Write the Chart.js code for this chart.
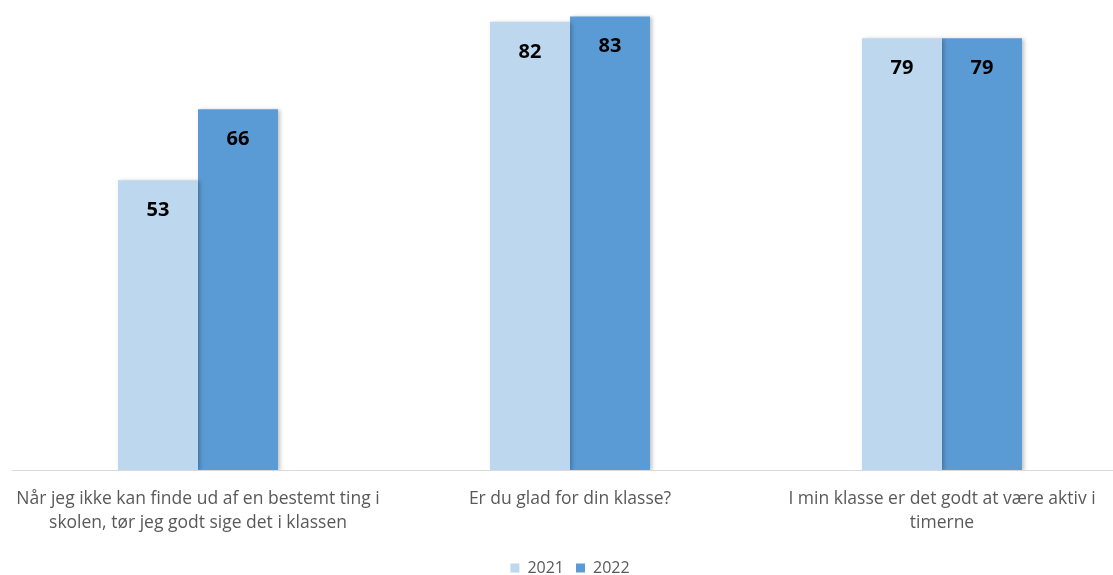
<!DOCTYPE html>
<html>
<head>
<meta charset="utf-8">
<script src="https://cdn.jsdelivr.net/npm/chart.js@4"></script>
<style>
html, body { margin: 0; padding: 0; background: #ffffff; overflow: hidden; }
</style>
</head>
<body>
<canvas id="chart" width="1128" height="575"></canvas>
<script>
const categories = [
	['Når jeg ikke kan finde ud af en bestemt ting i', 'skolen, tør jeg godt sige det i klassen'],
	['Er du glad for din klasse?'],
	['I min klasse er det godt at være aktiv i', 'timerne'],
];
const values2021 = [53, 82, 79];
const values2022 = [66, 83, 79];

const fontFamily = "'Open Sans', Lato, sans-serif";

// bold value labels inside top of each bar
const valueLabels = {
	id: 'valueLabels',
	afterDatasetsDraw: chart => {
		const ctx = chart.ctx;
		ctx.save();
		ctx.fillStyle = '#000000';
		ctx.font = `bold 20px ${fontFamily}`;
		ctx.textAlign = 'center';
		ctx.textBaseline = 'middle';
		chart.data.datasets.forEach((ds, i) => {
			const meta = chart.getDatasetMeta(i);
			meta.data.forEach((bar, j) => {
				ctx.fillText(ds.data[j], bar.x, bar.y + 30);
			});
		});
		ctx.restore();
	}
};

// soft shadow behind bars
const barShadow = {
	id: 'barShadow',
	beforeDatasetsDraw: chart => {
		const ctx = chart.ctx;
		ctx.save();
		ctx.shadowColor = 'rgba(0,0,0,0.25)';
		ctx.shadowBlur = 4;
		ctx.shadowOffsetX = 2;
		ctx.shadowOffsetY = 1;
	},
	afterDatasetsDraw: chart => {
		chart.ctx.restore();
	}
};

new Chart(document.getElementById('chart'), {
	type: 'bar',
	data: {
		labels: categories,
		datasets: [
			{
				label: '2021',
				data: values2021,
				backgroundColor: '#BDD7EE',
			},
			{
				label: '2022',
				data: values2022,
				backgroundColor: '#5B9BD5',
			},
		],
	},
	plugins: [barShadow, valueLabels],
	options: {
		responsive: false,
		animation: false,
		layout: {
			padding: {left: 12, right: 0, top: 0, bottom: -11},
		},
		plugins: {
			legend: {
				position: 'bottom',
				labels: {
					boxWidth: 9,
					boxHeight: 9,
					color: '#595959',
					font: {family: fontFamily, size: 16},
					padding: 12,
				},
			},
			tooltip: {enabled: false},
		},
		datasets: {
			bar: {
				barPercentage: 1,
				categoryPercentage: 0.43,
			},
		},
		scales: {
			x: {
				grid: {display: false},
				border: {display: true, color: '#d9d9d9', width: 1},
				ticks: {
					color: '#595959',
					font: {family: fontFamily, size: 17.5, lineHeight: 24 / 17.5},
					padding: 9,
					maxRotation: 0,
				},
				afterFit: scale => {
					scale.height = 78;
				},
			},
			y: {
				display: false,
				min: 0,
				max: 86,
			},
		},
	},
});
</script>
</body>
</html>
